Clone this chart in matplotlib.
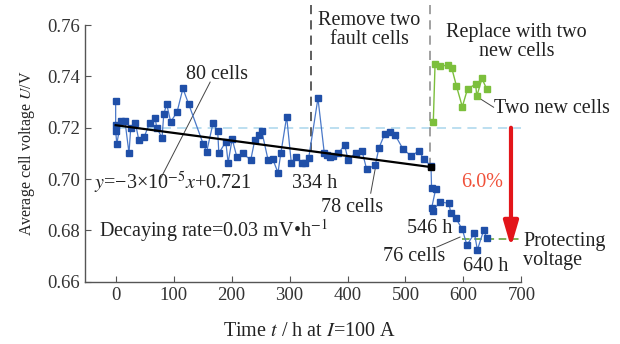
import numpy as np
import matplotlib.pyplot as plt

plt.rcParams['font.family'] = ['Liberation Serif', 'DejaVu Serif']
plt.rcParams['mathtext.fontset'] = 'stix'
plt.rcParams['font.size'] = 14.5

# blue series: 80 cells -> 78 cells (after 334 h) -> 76 cells (after 546 h)
t_old = [0, 0, 0, 2, 9, 16, 23, 26, 34, 40, 49, 59, 68, 71, 80, 83, 88, 95, 106, 116,
         126, 151, 157, 168, 176, 178, 190, 194, 201, 209, 219, 233, 240, 247, 252, 263, 271, 280, 285, 295,
         303, 311, 321, 326, 333,
         349, 360, 364, 369, 375, 384, 395, 401, 414, 425, 433, 448, 454, 464, 473, 482, 496, 510, 523, 532, 544,
         545, 552, 545, 548, 559, 575, 578, 587, 598, 606, 619, 624, 635, 640]
u_old = [0.7304, 0.7211, 0.7187, 0.7137, 0.7227, 0.7227, 0.7101, 0.7199, 0.7218, 0.7152, 0.7164, 0.7219,
         0.7239, 0.7199, 0.7161, 0.7253, 0.7292, 0.7223, 0.7262, 0.7353,
         0.7292, 0.7137, 0.7107, 0.7218, 0.7187, 0.7101, 0.7145, 0.7064, 0.7156, 0.7087, 0.7101, 0.7074,
         0.7152, 0.7172, 0.7187, 0.7074, 0.7078, 0.7025, 0.7101, 0.7243,
         0.7064, 0.7087, 0.7064, 0.7064, 0.7082,
         0.7315, 0.7100, 0.7094, 0.7087, 0.7091, 0.7100, 0.7133, 0.7074, 0.7103, 0.7110, 0.7038, 0.7055,
         0.7120, 0.7175, 0.7184, 0.7172, 0.7116, 0.7090, 0.7110, 0.7077, 0.7051,
         0.6964, 0.6960, 0.6886, 0.6877, 0.6912, 0.6905, 0.6869, 0.6847, 0.6804, 0.6743, 0.6789, 0.6724,
         0.6801, 0.6771]

# green series: two new cells
t_new = [548, 551, 559, 573, 580, 588, 598, 607, 621, 623, 632, 640]
u_new = [0.7223, 0.7448, 0.7440, 0.7444, 0.7431, 0.7362, 0.7282, 0.7351, 0.7370, 0.7323, 0.7392, 0.7351]

# linear fit y = -3e-5 x + 0.721
slope = -3e-5
intercept = 0.721
fit_t = [0, 544]

u_ref = 0.72
u_protect = 0.6765

fig = plt.figure(figsize=(6.2, 3.44), dpi=100)
ax = fig.add_axes([0.137, 0.181, 0.704, 0.746])

blue_line = '#4a78c8'
blue_mark = '#1f4fa8'
green = '#7cbf3c'
txt = '#222222'

ax.plot([0, 700], [u_ref, u_ref], ls=(0, (6, 4)), color='#a9d6ec', lw=1.1, zorder=1)
ax.plot([598, 702], [u_protect, u_protect], ls=(0, (5, 3)), color='#5a9e2e', lw=1.1, zorder=1)

ax.plot(t_old, u_old, color=blue_line, lw=0.9, marker='s', ms=4.5,
        mfc=blue_mark, mec=blue_mark, zorder=3)
ax.plot(t_new, u_new, color=green, lw=1.0, marker='s', ms=4.5,
        mfc=green, mec=green, zorder=3)

fit_u = [slope * t + intercept for t in fit_t]
ax.plot(fit_t, fit_u, color='black', lw=1.6, zorder=4)
ax.plot([fit_t[1]], [fit_u[1]], marker='s', ms=4.5, color='black', zorder=5)

# event lines
ax.plot([337, 337], [0.768, 0.7094], ls=(0, (6, 4)), color='#333333', lw=1.1, clip_on=False, zorder=2)
ax.plot([543, 543], [0.768, 0.7055], ls=(0, (6, 4)), color='#888888', lw=1.1, clip_on=False, zorder=2)

# drop arrow
ax.annotate('', xy=(682, 0.6735), xytext=(682, u_ref),
            arrowprops=dict(arrowstyle='-|>,head_length=0.75,head_width=0.22',
                            color='#e3151a', lw=3.0, mutation_scale=20, shrinkA=0, shrinkB=0),
            zorder=6)
ax.text(633, 0.6985, '6.0%', color='#f0513a', ha='center', va='center')

ax.text(175, 0.7409, '80 cells', color=txt, ha='center', va='center')
ax.plot([163, 78], [0.7378, 0.7004], color='#444444', lw=0.7)
ax.text(-37, 0.6984, r'$y$=−3×10$^{-5}$$x$+0.721', color=txt, ha='left', va='center')
ax.text(-28, 0.6800, 'Decaying rate=0.03 mV\u2022h$^{-1}$', color=txt, ha='left', va='center')
ax.text(343, 0.6984, '334 h', color=txt, ha='center', va='center')
ax.text(407, 0.6890, '78 cells', color=txt, ha='center', va='center')
ax.plot([449, 440], [0.7055, 0.6945], color='#444444', lw=0.7)
ax.text(542, 0.6809, '546 h', color=txt, ha='center', va='center')
ax.text(515, 0.6700, '76 cells', color=txt, ha='center', va='center')
ax.plot([554, 594], [0.6735, 0.6774], color='#444444', lw=0.7)
ax.text(638, 0.6661, '640 h', color=txt, ha='center', va='center')
ax.text(703, 0.6720, 'Protecting\nvoltage', color=txt, ha='left', va='center',
        linespacing=1.0, clip_on=False)
ax.text(653, 0.7277, 'Two new cells', color=txt, ha='left', va='center', clip_on=False)
ax.plot([624, 652], [0.7320, 0.7280], color='#444444', lw=0.7, clip_on=False)
ax.text(692, 0.7534, 'Replace with two\nnew cells', color=txt, ha='center', va='center',
        linespacing=1.0, clip_on=False)
ax.text(438, 0.7580, 'Remove two\nfault cells', color=txt, ha='center', va='center',
        linespacing=1.0, clip_on=False)

ax.set_xlim(-53, 700)
ax.set_ylim(0.66, 0.76)
ax.set_xticks(range(0, 701, 100))
ax.set_yticks([0.66, 0.68, 0.70, 0.72, 0.74, 0.76])
ax.set_yticklabels(['0.66', '0.68', '0.70', '0.72', '0.74', '0.76'])
for s in ['top', 'right']:
    ax.spines[s].set_visible(False)
for s in ['left', 'bottom']:
    ax.spines[s].set_color('#555555')
    ax.spines[s].set_linewidth(1.0)
ax.tick_params(direction='in', length=4, color='#555555', labelcolor='#333333', labelsize=13.5)

ax.set_xlabel('Time $t$ / h at $I$=100 A', color=txt, labelpad=13)
ax.xaxis.label.set_x(0.515)
ax.set_ylabel('Average cell voltage $U$/V', color=txt, fontsize=11.5, labelpad=7)

fig.savefig('out.png', dpi=100)
